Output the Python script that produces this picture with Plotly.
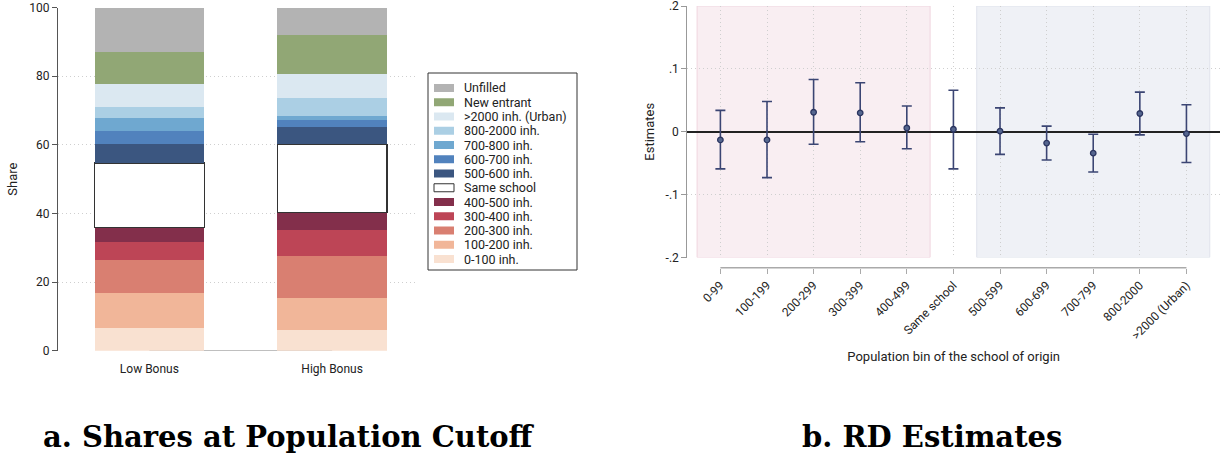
import plotly.graph_objects as go

# ---------------- Data ----------------
groups = ["Low Bonus", "High Bonus"]
series_names = ["0-100 inh.", "100-200 inh.", "200-300 inh.", "300-400 inh.", "400-500 inh.",
                "Same school", "500-600 inh.", "600-700 inh.", "700-800 inh.", "800-2000 inh.",
                ">2000 inh. (Urban)", "New entrant", "Unfilled"]
low_bonus = [6.7, 10.1, 9.6, 5.3, 4.3, 18.7, 5.6, 3.7, 3.9, 3.0, 6.9, 9.3, 12.9]
high_bonus = [6.0, 9.4, 12.1, 7.6, 5.2, 19.8, 5.0, 2.2, 1.0, 5.4, 7.0, 11.2, 8.1]
series_colors = ["#f9e1d1", "#f1b699", "#d97f71", "#bd4556", "#832f4b",
                 "#ffffff", "#3b5680", "#5182bd", "#6fa8d0", "#abcfe4",
                 "#dbe8f1", "#91a775", "#b3b3b3"]

bins = ["0-99", "100-199", "200-299", "300-399", "400-499", "Same school",
        "500-599", "600-699", "700-799", "800-2000", ">2000 (Urban)"]
estimates = [-0.013, -0.013, 0.031, 0.030, 0.006, 0.004, 0.001, -0.018, -0.034, 0.029, -0.003]
ci_upper = [0.034, 0.048, 0.083, 0.078, 0.041, 0.066, 0.038, 0.009, -0.004, 0.063, 0.043]
ci_lower = [-0.059, -0.073, -0.020, -0.016, -0.027, -0.059, -0.036, -0.045, -0.064, -0.005, -0.049]
est_ticks = [-0.2, -0.1, 0, 0.1, 0.2]
est_ticktext = ["-.2", "-.1", "0", ".1", ".2"]

W, H = 1222, 454
FAM = "Liberation Sans Narrow, Roboto, Liberation Sans, sans-serif"
TICKFONT = dict(family=FAM, size=12, color="#222")

def px_x(p):
    return p / W

def px_y(p):
    return (H - p) / H

fig = go.Figure()

# ---------------- Left: stacked bars ----------------
for name, lo, hi, col in zip(series_names, low_bonus, high_bonus, series_colors):
    is_same = name == "Same school"
    fig.add_trace(go.Bar(
        x=groups, y=[lo, hi], name=name, marker_color=col,
        marker_line=dict(color="#333333" if is_same else col, width=1.2 if is_same else 0),
        width=0.6, xaxis="x", yaxis="y", showlegend=False,
    ))

# ---------------- Right: estimates with CIs ----------------
xpos = list(range(len(bins)))
fig.add_trace(go.Scatter(
    x=xpos, y=estimates, mode="markers",
    marker=dict(symbol="circle", size=5.5, color="#55668f", line=dict(color="#2b3560", width=1.3)),
    error_y=dict(type="data", symmetric=False,
                 array=[u - e for u, e in zip(ci_upper, estimates)],
                 arrayminus=[e - l for l, e in zip(ci_lower, estimates)],
                 color="#3b4573", thickness=1.6, width=5),
    xaxis="x2", yaxis="y2", showlegend=False,
))

grid = dict(showgrid=True, gridcolor="#cfcfcf", gridwidth=1, griddash="1px,3px")

fig.update_layout(
    width=W, height=H, margin=dict(l=0, r=0, t=0, b=0, autoexpand=False),
    paper_bgcolor="white", plot_bgcolor="white",
    barmode="stack", showlegend=False,
    font=dict(family=FAM, color="#222"),
    xaxis=dict(domain=[px_x(58), px_x(418)], range=[-0.5, 1.47], showline=False, automargin=False,
               ticks="", tickfont=TICKFONT, ticklabelstandoff=9, showgrid=False, zeroline=False),
    yaxis=dict(domain=[px_y(350.7), px_y(7.5)], range=[0, 100], tickvals=[0, 20, 40, 60, 80, 100],
               showline=True, linecolor="#555", linewidth=1.2, ticks="outside", ticklen=5,
               tickcolor="#555", tickfont=TICKFONT, zeroline=False, automargin=False,
               ticklabeloverflow="allow",
               title=dict(text="Share", font=dict(size=13, family=FAM), standoff=8),
               **grid),
    xaxis2=dict(domain=[px_x(687.3), px_x(1220)], range=[-0.71, 10.72], anchor="free",
                position=px_y(267.7), tickvals=xpos, ticktext=bins, tickangle=-45,
                ticks="outside", ticklen=5, tickcolor="#aaa", tickwidth=1.2, showline=False,
                tickfont=TICKFONT, zeroline=False, automargin=False,
                title=dict(text="Population bin of the school of origin",
                           font=dict(size=13, family=FAM), standoff=10),
                **grid),
    yaxis2=dict(domain=[px_y(257.5), px_y(6.0)], range=[-0.2, 0.2], anchor="x2",
                tickvals=est_ticks, ticktext=est_ticktext, showline=True, linecolor="#999",
                linewidth=1.2, ticks="outside", ticklen=5, tickcolor="#999", tickfont=TICKFONT,
                zeroline=True, zerolinecolor="#222", zerolinewidth=1.6, automargin=False,
                ticklabeloverflow="allow",
                title=dict(text="Estimates", font=dict(size=13, family=FAM), standoff=8),
                **grid),
)

shapes = []
# shaded regions on the right panel
shapes.append(dict(type="rect", xref="x2", yref="y2", x0=-0.5, x1=4.5, y0=-0.2, y1=0.2,
                   fillcolor="#f9eef2", line=dict(color="#f0d6df", width=1), layer="below"))
shapes.append(dict(type="rect", xref="x2", yref="y2", x0=5.5, x1=10.5, y0=-0.2, y1=0.2,
                   fillcolor="#eff1f6", line=dict(color="#e0e3ec", width=1), layer="below"))
# offset x-axis line of the right panel
shapes.append(dict(type="line", xref="x2", yref="paper", x0=0, x1=len(bins) - 1,
                   y0=px_y(267.7), y1=px_y(267.7), line=dict(color="#aaa", width=1.5)))
# baseline of the left panel (between group centers)
shapes.append(dict(type="line", xref="x", yref="y", x0=0, x1=len(groups) - 1, y0=0, y1=0,
                   line=dict(color="#aaa", width=1.5), layer="below"))

# compact legend box, as in the original
leg_x0, leg_x1, leg_y0, leg_y1 = 428, 577, 73, 270
shapes.append(dict(type="rect", xref="paper", yref="paper", x0=px_x(leg_x0), x1=px_x(leg_x1),
                   y0=px_y(leg_y1), y1=px_y(leg_y0), line=dict(color="#333", width=1),
                   fillcolor="white"))
annotations = []
first_y, step = 88.0, 14.25
for i, (name, col) in enumerate(zip(series_names[::-1], series_colors[::-1])):
    cy = first_y + i * step
    is_same = name == "Same school"
    shapes.append(dict(type="rect", xref="paper", yref="paper", x0=px_x(434), x1=px_x(454),
                       y0=px_y(cy + 4), y1=px_y(cy - 4), fillcolor=col,
                       line=dict(color="#333" if is_same else col, width=1 if is_same else 0)))
    annotations.append(dict(x=px_x(462), y=px_y(cy), xref="paper", yref="paper", text=name,
                            showarrow=False, xanchor="left", yanchor="middle",
                            font=dict(size=12.5, family=FAM, color="#222")))

# panel captions
cap_font = dict(family="DejaVu Serif, Liberation Serif, serif", size=29, color="black")
annotations.append(dict(x=px_x(289), y=px_y(437), xref="paper", yref="paper",
                        text="<b>a. Shares at Population Cutoff</b>", showarrow=False,
                        xanchor="center", yanchor="middle", font=cap_font))
annotations.append(dict(x=px_x(932), y=px_y(437), xref="paper", yref="paper",
                        text="<b>b. RD Estimates</b>", showarrow=False,
                        xanchor="center", yanchor="middle", font=cap_font))

fig.update_layout(shapes=shapes, annotations=annotations)
fig.write_html("out.html", post_script="document.body.style.margin='0';",
               config={"displayModeBar": False})
